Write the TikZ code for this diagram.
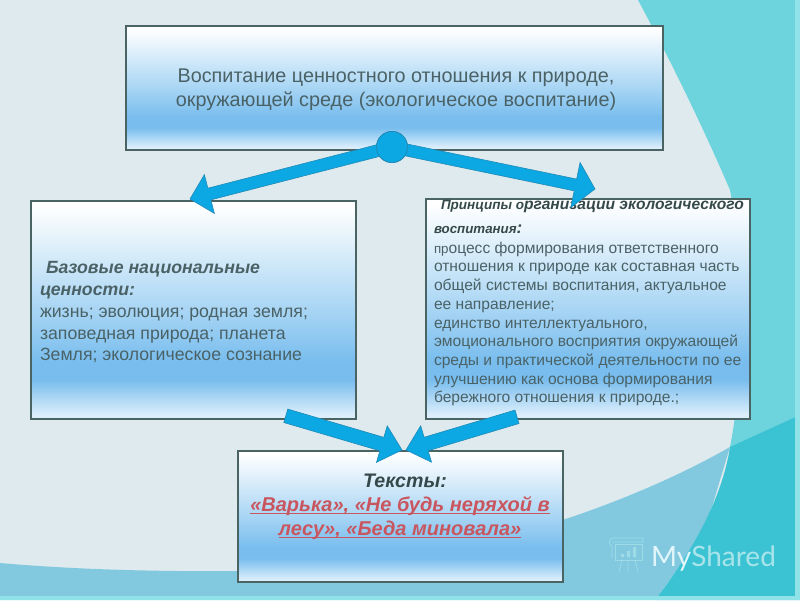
\documentclass[tikz,border=0pt]{standalone}
\usepackage{fontspec}
\setmainfont{Liberation Sans}
\newfontfamily\wmfont{Lato}
\usetikzlibrary{calc}
\definecolor{bglight}{HTML}{DEEAED}
\definecolor{bgteal}{HTML}{6DD3DC}
\definecolor{bgmid}{HTML}{82C9E0}
\definecolor{bgdark}{HTML}{3CC3D3}
\definecolor{bgstrip}{HTML}{8FE3E8}
\definecolor{boxedge}{HTML}{4A6464}
\definecolor{inktext}{HTML}{4A6266}
\definecolor{inkdark}{HTML}{36494A}
\definecolor{inkred}{HTML}{C9565E}
\definecolor{arrowfill}{HTML}{0CA8E4}
\definecolor{arrowedge}{HTML}{1F8AB6}
\definecolor{wmbright}{HTML}{E2F6FA}
\definecolor{wmpale}{HTML}{A9E4EA}
\definecolor{sw}{HTML}{FFFFFF}
\definecolor{sa}{HTML}{EAF5FC}
\definecolor{sb}{HTML}{A8D5F4}
\definecolor{sc}{HTML}{78BDEE}
\definecolor{sd}{HTML}{DCEEFB}
\pgfdeclareverticalshading{boxfill}{100bp}{color(0bp)=(sd); color(26bp)=(sd); color(34bp)=(sc); color(38bp)=(sc); color(50bp)=(sb); color(68bp)=(sa); color(74bp)=(sw); color(100bp)=(sw)}
\tikzset{
  boxnode/.style={draw=boxedge,line width=1.8pt,shading=boxfill,anchor=north west,inner sep=0pt},
  label/.style={inner sep=0pt,outer sep=0pt,text=inktext},
  blockarrow/.style={fill=arrowfill,draw=arrowedge,line width=0.6pt,line join=miter},
  wm/.style={draw=wmpale,line width=0.7pt,opacity=0.7}
}
% from, to, shaft half width, head half width, head length
\newcommand{\blockarrow}[5]{%
  \coordinate (hb) at ($(#2)!#5!(#1)$);
  \path[blockarrow]
    ($(#1)!#3!90:(#2)$) -- ($(hb)!#3!-90:(#1)$) -- ($(hb)!#4!-90:(#1)$) -- (#2)
    -- ($(hb)!#4!90:(#1)$) -- ($(hb)!#3!90:(#1)$) -- ($(#1)!#3!-90:(#2)$) -- cycle;
}
\newcommand{\thickul}[1]{\setbox0=\hbox{#1}\rlap{\textcolor{inkred}{\rule[-3pt]{\wd0}{1.5pt}}}\box0}
\newcommand{\fitw}[2]{\resizebox{#1}{\height}{#2}}
\begin{document}
\begin{tikzpicture}[x=1pt,y=-1pt]
\useasboundingbox (0,0) rectangle (800,600);
% background
\fill[bglight] (0,0) rectangle (800,600);
\fill[bgteal] (638,0) .. controls (665,50) and (700,120) .. (730,190)
  .. controls (745,270) and (745,370) .. (730,447) -- (800,447) -- (800,0) -- cycle;
\fill[bgmid] (0,563) .. controls (80,570) and (180,573) .. (300,570)
  .. controls (450,565) and (620,510) .. (730,447)
  -- (704,533) -- (655,600) -- (0,600) -- cycle;
\fill[bgdark] (800,415) -- (730,447) .. controls (722,500) and (690,555) .. (655,600) -- (800,600) -- cycle;
\fill[bgstrip] (795,0) rectangle (800,600);
\fill[bgstrip] (0,596) rectangle (800,600);
% boxes
\node[boxnode,minimum width=537pt,minimum height=124pt] (topbox) at (125,25) {};
\node[boxnode,minimum width=325pt,minimum height=218pt] (leftbox) at (30,200) {};
\node[boxnode,minimum width=324pt,minimum height=220pt] (rightbox) at (425,198) {};
\node[boxnode,minimum width=325pt,minimum height=131pt] (bottombox) at (237,450) {};
% texts
\node[label,anchor=base,align=center,font=\fontsize{19.8}{24}\selectfont] (toptext) at (396,106)
  {Воспитание ценностного отношения к природе,\\окружающей среде (экологическое воспитание)};
\node[label,anchor=north west,align=left,font=\fontsize{17.7}{21.7}\selectfont] (lefttext) at (40,261)
  {\hspace*{6pt}\textbf{\textit{Базовые национальные}}\\[1pt]
   \textbf{\textit{ценности:}}\\
   жизнь; эволюция; родная земля;\\
   заповедная природа; планета\\
   Земля; экологическое сознание};
\node[label,anchor=north west,align=left,font=\fontsize{15.6}{18.7}\selectfont] (righttext) at (434,200)
  {\hspace*{7pt}\textcolor{inkdark}{\textbf{\textit{\fontsize{13.5}{18.7}\selectfont Принципы о\fontsize{15.6}{18.7}\selectfont рганизации экологического}}}\\[5.3pt]
   \textcolor{inkdark}{\textbf{\textit{\fontsize{13.3}{18.7}\selectfont воспитания\fontsize{17}{18.7}\selectfont :}}}\\[1.3pt]
   {\fontsize{13.3}{18.7}\selectfont пр}оцесс формирования ответственного\\
   отношения к природе как составная часть\\
   общей системы воспитания, актуальное\\
   ее направление;\\
   единство интеллектуального,\\
   \fitw{304pt}{эмоционального восприятия окружающей}\\
   среды и практической деятельности по ее\\
   улучшению как основа формирования\\
   бережного отношения к природе.;};
\node[label,anchor=base,text=inkdark,font=\fontsize{19.6}{24}\selectfont\bfseries\itshape] (bottomhead) at (405,487) {Тексты:};
\node[label,anchor=base,text=inkred,font=\fontsize{20}{24}\selectfont\bfseries\itshape] (bottomone) at (400,511) {\thickul{«Варька», «Не будь неряхой в}};
\node[label,anchor=base,text=inkred,font=\fontsize{20}{24}\selectfont\bfseries\itshape] (bottomtwo) at (400,535) {\thickul{лесу», «Беда миновала»}};
% arrows
\node[circle,fill=arrowfill,draw=arrowedge,line width=0.8pt,minimum size=31pt,inner sep=0pt] (hub) at (392,147) {};
\coordinate (tipleft) at ([xshift=160pt,yshift=1pt]leftbox.north west);
\coordinate (tipright) at ([xshift=170pt,yshift=9pt]rightbox.north west);
\coordinate (tailleft) at ([xshift=-71pt,yshift=4pt]leftbox.south east);
\coordinate (tailright) at ([xshift=92pt,yshift=3pt]rightbox.south west);
\coordinate (tipbotl) at ([xshift=165pt]bottombox.north west);
\coordinate (tipbotr) at ([xshift=169pt]bottombox.north west);
\blockarrow{hub}{tipleft}{6pt}{20pt}{20pt}
\blockarrow{hub}{tipright}{6pt}{23pt}{20pt}
\blockarrow{tailleft}{tipbotl}{7pt}{19pt}{21pt}
\blockarrow{tailright}{tipbotr}{7pt}{19pt}{21pt}
\node[circle,fill=arrowfill,draw=arrowedge,line width=0.8pt,minimum size=31pt,inner sep=0pt] (hubtop) at (392,147) {};
% watermark
\node[anchor=base west,inner sep=0pt,font=\wmfont\fontsize{28}{28}\selectfont] (wmtext) at (651,566)
  {\textcolor{wmbright}{My}\textcolor{wmpale}{Shared}};
\draw[wm] (612,538) -- (643,538) -- (643,542) -- (612,542) (612,538) .. controls (608,540) and (609,545) .. (612,546) -- (612,558);
\draw[wm] (615,544) rectangle (642,560);
\draw[wm] (622,560) -- (619,572) (628,560) -- (628,572) (635,560) -- (638,572);
\fill[wmpale,opacity=0.7] (621,554) rectangle (624,557) (627,551) rectangle (630,557) (633,547) rectangle (636,557);
\end{tikzpicture}
\end{document}
